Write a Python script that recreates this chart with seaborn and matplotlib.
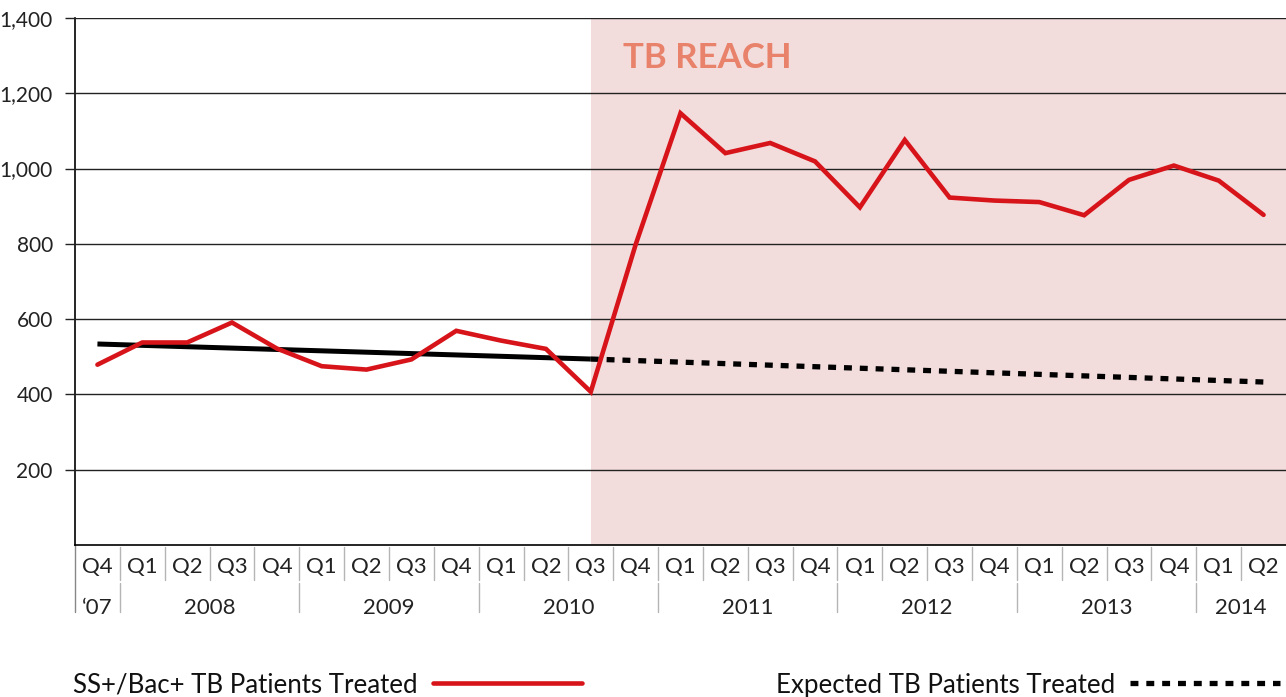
"""TB REACH: smear-positive / bac+ TB patients treated per quarter."""

import numpy as np
import matplotlib.pyplot as plt
from matplotlib.lines import Line2D
import seaborn as sns

# --- data -------------------------------------------------------------------
quarter_labels = ["Q4",
                  "Q1", "Q2", "Q3", "Q4",
                  "Q1", "Q2", "Q3", "Q4",
                  "Q1", "Q2", "Q3", "Q4",
                  "Q1", "Q2", "Q3", "Q4",
                  "Q1", "Q2", "Q3", "Q4",
                  "Q1", "Q2", "Q3", "Q4",
                  "Q1", "Q2"]
quarter_years = [2007,
                 2008, 2008, 2008, 2008,
                 2009, 2009, 2009, 2009,
                 2010, 2010, 2010, 2010,
                 2011, 2011, 2011, 2011,
                 2012, 2012, 2012, 2012,
                 2013, 2013, 2013, 2013,
                 2014, 2014]
year_labels = {2007: "\u201807", 2008: "2008", 2009: "2009", 2010: "2010",
               2011: "2011", 2012: "2012", 2013: "2013", 2014: "2014"}

treated = [479, 538, 538, 591, 522, 475, 466, 493, 569, 543, 521, 407,
           798, 1147, 1041, 1068, 1019, 897, 1076, 923, 915, 911, 876,
           970, 1008, 968, 877]

# linear trend: fitted part (Q4'07 - Q3'10) and projection (Q3'10 - Q2'14)
trend_fit_q = [0, 11]
trend_fit = [534, 494]
trend_proj_q = [11, 26]
trend_proj = [494, 433]

reach_start_q = 11  # TB REACH starts at Q3 2010

RED = "#d7141a"
SHADE = "#f3dcdc"
REACH_TXT = "#e8826a"

# --- figure -----------------------------------------------------------------
sns.set_theme(style="white")
plt.rcParams["font.family"] = ["Lato", "DejaVu Sans"]

fig = plt.figure(figsize=(12.86, 6.97), dpi=100)
ax = fig.add_axes([75 / 1286, 1 - 545 / 697, 1 - 75 / 1286, (545 - 18) / 697])

x = np.arange(len(treated))
n = len(x)

ax.axvspan(reach_start_q, n - 0.5, color=SHADE, lw=0, zorder=0)

sns.lineplot(x=x, y=treated, ax=ax, color=RED, lw=3.3, zorder=4,
             solid_joinstyle="miter")
sns.lineplot(x=trend_fit_q, y=trend_fit, ax=ax, color="black", lw=3.6,
             zorder=3, solid_capstyle="butt")
sns.lineplot(x=trend_proj_q, y=trend_proj, ax=ax, color="black", lw=3.8,
             zorder=3, dashes=False)
ax.lines[-1].set_dashes((1.5, 1.5))
ax.lines[-1].set_dash_capstyle("butt")

ax.set_xlim(-0.5, n - 0.5)
ax.set_ylim(0, 1400)
ax.set_yticks(range(200, 1401, 200))
ax.set_yticklabels([f"{v:,}" for v in range(200, 1401, 200)])
ax.yaxis.grid(True, color="#222222", lw=1.0, zorder=1)
ax.set_axisbelow(False)
ax.tick_params(axis="y", length=7, width=1.0, color="#222222", pad=9,
               labelsize=15, labelcolor="#222222", left=True)
ax.set_xticks([])
for side in ["top", "right"]:
    ax.spines[side].set_visible(False)
for side in ["left", "bottom"]:
    ax.spines[side].set_color("black")
    ax.spines[side].set_linewidth(1.2)
    ax.spines[side].set_zorder(2)

ax.text(0.4525, 0.924, "TB REACH", transform=ax.transAxes, color=REACH_TXT,
        fontsize=25, fontweight="bold", ha="left", va="center")

# --- quarter / year table under the axis -----------------------------------
tr = ax.get_xaxis_transform()
sep_kw = dict(color="#b5b5b5", lw=1.0, transform=tr, clip_on=False)
for i, lab in enumerate(quarter_labels):
    ax.text(i, -0.042, lab, transform=tr, ha="center", va="center",
            fontsize=16, color="#222222")
    if i > 0:
        ax.plot([i - 0.5, i - 0.5], [-0.004, -0.066], **sep_kw)
ax.plot([-0.5, -0.5], [0, -0.128], color="#888888", lw=1.0, transform=tr,
        clip_on=False)

years = sorted(set(quarter_years))
for yr in years:
    idx = [i for i, q in enumerate(quarter_years) if q == yr]
    ax.text((idx[0] + idx[-1]) / 2, -0.119, year_labels[yr], transform=tr,
            ha="center", va="center", fontsize=16, color="#222222")
    if idx[0] > 0:
        ax.plot([idx[0] - 0.5, idx[0] - 0.5], [-0.072, -0.128], **sep_kw)

# --- legend (label before line) --------------------------------------------
handles = [Line2D([], [], color=RED, lw=3.3),
           Line2D([], [], color="black", lw=3.8, dashes=(1.5, 1.5),
                  dash_capstyle="butt")]
fig.legend(handles, ["SS+/Bac+ TB Patients Treated",
                     "Expected TB Patients Treated"],
           loc="center left", bbox_to_anchor=(73 / 1286, 1 - 685 / 697),
           ncol=2, markerfirst=False, frameon=False, fontsize=18.6,
           handlelength=5.8, handletextpad=0.58, columnspacing=7.5,
           borderpad=0, borderaxespad=0, labelcolor="#111111")

fig.savefig("out.png", dpi=100)
